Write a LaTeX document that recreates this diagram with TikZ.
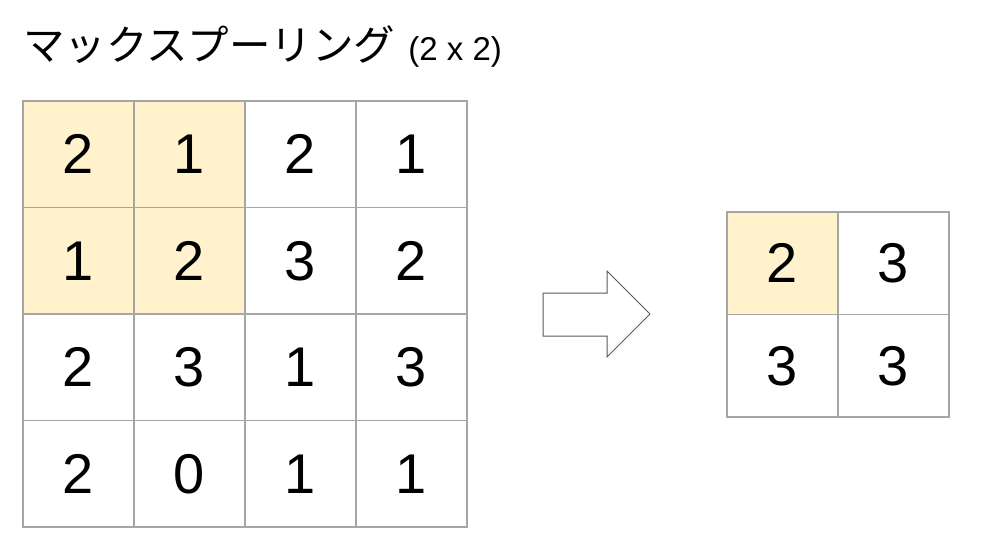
\documentclass[tikz,border=0pt]{standalone}
\usepackage{fontspec}
\setmainfont{Liberation Sans}
\newfontfamily\jpfont{Noto Sans CJK JP}

\definecolor{poolfill}{HTML}{FFF2CC}
\definecolor{gridline}{HTML}{A6A6A6}
\definecolor{arrowline}{HTML}{595959}

\begin{document}
\begin{tikzpicture}[x=1pt,y=-1pt,
    cell/.style={draw=gridline, line width=1.5pt, minimum width=111pt,
      minimum height=106.5pt, inner sep=0pt, font=\fontsize{56}{60}\selectfont},
    outcell/.style={cell, minimum height=102.5pt}]
  \useasboundingbox (0,0) rectangle (984,554);
  \node [anchor=base west, inner sep=0pt] (title) at (23,60)
    {{\jpfont\fontsize{41.5}{44}\selectfont マックスプーリング}\hspace{13pt}{\fontsize{33}{36}\selectfont (2 x 2)}};
  % input map
  \foreach \vals [count=\r] in {{2,1,2,1},{1,2,3,2},{2,3,1,3},{2,0,1,1}}
    \foreach \v [count=\c] in \vals {
      \pgfmathsetmacro\bg{ifthenelse(and(\r<3,\c<3),"poolfill","white")}
      \node [cell, fill=\bg] (in-\r-\c) at ({23+111*(\c-0.5)},{101+106.5*(\r-0.5)}) {\v};
    }
  % arrow
  \draw [arrowline, line width=1pt, line join=miter]
    (543,293) -- (607,293) -- (607,271) -- (650,314) -- (607,357)
    -- (607,336) -- (543,336) -- cycle;
  % pooled map
  \foreach \vals [count=\r] in {{2,3},{3,3}}
    \foreach \v [count=\c] in \vals {
      \pgfmathsetmacro\bg{ifthenelse(and(\r<2,\c<2),"poolfill","white")}
      \node [outcell, fill=\bg] (out-\r-\c) at ({727+111*(\c-0.5)},{212+102.5*(\r-0.5)}) {\v};
    }
\end{tikzpicture}
\end{document}
